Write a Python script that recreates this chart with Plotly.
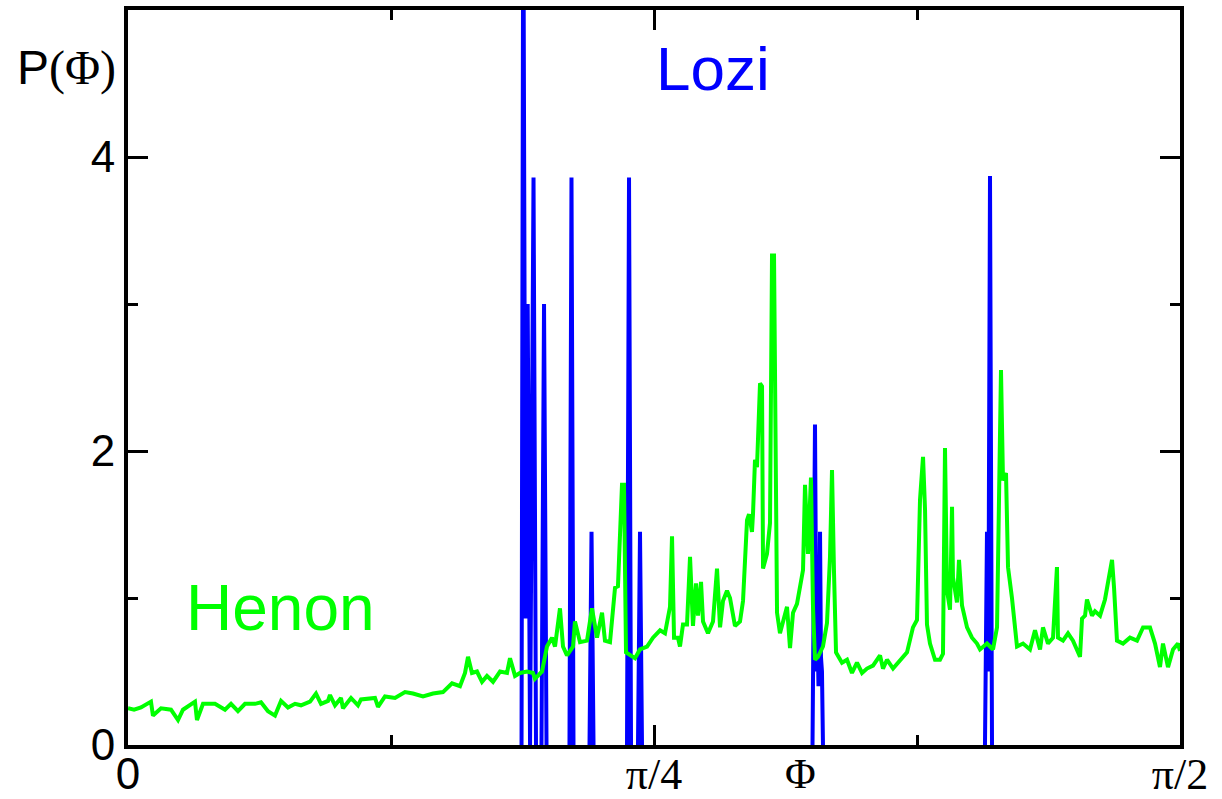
import math
import plotly.graph_objects as go

# ---- Henon: P(phi) ----
henon_phi = [
    0.0000, 0.0090, 0.0194, 0.0343, 0.0373, 0.0493, 0.0642, 0.0747, 0.0821, 0.1000,
    0.1030, 0.1120, 0.1299, 0.1448, 0.1538, 0.1642, 0.1747, 0.1896, 0.1986, 0.2090,
    0.2195, 0.2285, 0.2389, 0.2494, 0.2583, 0.2718, 0.2807, 0.2882, 0.2986, 0.3016,
    0.3091, 0.3180, 0.3210, 0.3330, 0.3434, 0.3479, 0.3688, 0.3733, 0.3837, 0.3987,
    0.4136, 0.4255, 0.4405, 0.4554, 0.4703, 0.4838, 0.4957, 0.5032, 0.5077, 0.5136,
    0.5211, 0.5286, 0.5360, 0.5450, 0.5555, 0.5659, 0.5704, 0.5779, 0.5853, 0.5958,
    0.6047, 0.6077, 0.6182, 0.6256, 0.6331, 0.6376, 0.6450, 0.6495, 0.6555, 0.6645,
    0.6674, 0.6749, 0.6854, 0.6928, 0.7003, 0.7078, 0.7122, 0.7197, 0.7272, 0.7316,
    0.7376, 0.7406, 0.7436, 0.7496, 0.7570, 0.7645, 0.7750, 0.7839, 0.7944, 0.8018,
    0.8093, 0.8123, 0.8153, 0.8212, 0.8242, 0.8287, 0.8347, 0.8392, 0.8421, 0.8436,
    0.8481, 0.8511, 0.8556, 0.8586, 0.8660, 0.8735, 0.8795, 0.8840, 0.8884, 0.8944,
    0.8989, 0.9063, 0.9138, 0.9183, 0.9243, 0.9273, 0.9317, 0.9332, 0.9362, 0.9392,
    0.9437, 0.9467, 0.9482, 0.9541, 0.9586, 0.9616, 0.9646, 0.9691, 0.9735, 0.9780,
    0.9840, 0.9885, 0.9930, 0.9989, 1.0034, 1.0079, 1.0109, 1.0153, 1.0198, 1.0228,
    1.0258, 1.0303, 1.0377, 1.0437, 1.0482, 1.0512, 1.0542, 1.0572, 1.0661, 1.0736,
    1.0810, 1.0885, 1.0960, 1.1034, 1.1124, 1.1229, 1.1273, 1.1333, 1.1423, 1.1527,
    1.1632, 1.1721, 1.1781, 1.1826, 1.1871, 1.1901, 1.1930, 1.1975, 1.2050, 1.2124,
    1.2169, 1.2199, 1.2229, 1.2274, 1.2304, 1.2318, 1.2378, 1.2408, 1.2453, 1.2528,
    1.2602, 1.2677, 1.2722, 1.2826, 1.2916, 1.2976, 1.2990, 1.3035, 1.3065, 1.3110,
    1.3140, 1.3199, 1.3274, 1.3364, 1.3468, 1.3543, 1.3618, 1.3662, 1.3737, 1.3812,
    1.3871, 1.3886, 1.3961, 1.4036, 1.4110, 1.4215, 1.4245, 1.4290, 1.4319, 1.4394,
    1.4439, 1.4514, 1.4588, 1.4663, 1.4693, 1.4723, 1.4767, 1.4857, 1.4961, 1.5066,
    1.5156, 1.5260, 1.5335, 1.5409, 1.5454, 1.5529, 1.5604, 1.5678, 1.5708,
]
henon_p = [
    0.25, 0.24, 0.255, 0.295, 0.20, 0.25, 0.24, 0.17, 0.24, 0.295,
    0.17, 0.28, 0.28, 0.24, 0.28, 0.23, 0.28, 0.28, 0.29, 0.23,
    0.20, 0.30, 0.255, 0.28, 0.27, 0.295, 0.35, 0.28, 0.30, 0.34,
    0.27, 0.32, 0.25, 0.32, 0.27, 0.31, 0.32, 0.26, 0.33, 0.32,
    0.36, 0.35, 0.33, 0.35, 0.36, 0.42, 0.40, 0.49, 0.60, 0.49,
    0.50, 0.43, 0.47, 0.43, 0.50, 0.49, 0.59, 0.47, 0.49, 0.50,
    0.49, 0.45, 0.50, 0.67, 0.73, 0.67, 0.93, 0.67, 0.61, 0.67,
    0.84, 0.70, 0.71, 0.93, 0.73, 0.90, 0.71, 0.70, 1.07, 1.08,
    1.77, 1.77, 0.63, 0.61, 0.59, 0.65, 0.67, 0.73, 0.78, 0.76,
    0.94, 1.42, 0.73, 0.73, 0.67, 0.82, 0.82, 1.28, 0.84, 0.81,
    1.10, 0.88, 1.11, 0.84, 0.76, 0.84, 1.20, 0.80, 0.98, 1.05,
    1.00, 0.81, 0.84, 0.98, 1.53, 1.57, 1.45, 1.57, 1.94, 1.89,
    2.46, 2.44, 1.20, 1.30, 1.51, 3.33, 3.33, 0.90, 0.76, 0.83,
    0.94, 0.66, 0.90, 0.96, 1.07, 1.19, 1.77, 1.30, 1.82, 0.94,
    0.58, 0.60, 0.67, 0.83, 1.28, 1.87, 1.17, 0.63, 0.56, 0.58,
    0.49, 0.56, 0.49, 0.52, 0.54, 0.61, 0.52, 0.58, 0.52, 0.58,
    0.63, 0.80, 0.85, 1.67, 1.96, 1.60, 0.82, 0.69, 0.58, 0.58,
    0.62, 2.02, 1.05, 0.92, 1.62, 1.14, 0.97, 1.26, 0.95, 0.80,
    0.73, 0.69, 0.65, 0.69, 0.65, 0.80, 1.33, 2.55, 1.80, 1.85,
    1.21, 1.00, 0.67, 0.69, 0.65, 0.78, 0.65, 0.80, 0.69, 0.73,
    1.21, 0.73, 0.71, 0.76, 0.71, 0.60, 0.86, 0.88, 0.99, 0.88,
    0.91, 0.88, 0.99, 1.17, 1.26, 1.07, 0.71, 0.69, 0.73, 0.71,
    0.80, 0.80, 0.69, 0.53, 0.69, 0.53, 0.65, 0.69, 0.64,
]

# ---- Lozi: P(phi) (sharp spikes, zero elsewhere) ----
lozi_phi = [
    0.0000, 0.5876, 0.5902, 0.5935, 0.5968, 0.6003, 0.6055, 0.6092, 0.6174, 0.6212,
    0.6249, 0.6592, 0.6622, 0.6652, 0.6891, 0.6921, 0.6951, 0.7451, 0.7481, 0.7511,
    0.7615, 0.7645, 0.7675, 1.0221, 1.0258, 1.0280, 1.0295, 1.0310, 1.0333, 1.0347,
    1.0362, 1.0377, 1.2796, 1.2826, 1.2846, 1.2871, 1.2901, 1.5708,
]
lozi_p = [
    0.0, 0.0, 6.0, 0.86, 3.0, 0.0, 3.86, 0.0, 0.0, 3.0,
    0.0, 0.0, 3.86, 0.0, 0.0, 1.45, 0.0, 0.0, 3.86, 0.0,
    0.0, 1.45, 0.0, 0.0, 2.18, 0.5, 0.8, 0.4, 1.45, 0.6,
    0.5, 0.0, 0.0, 1.45, 0.5, 3.87, 0.0, 0.0,
]

x_tickvals = [0, math.pi / 4, math.pi / 2]
x_ticktext = ['<span style="font-family:Liberation Sans">0</span>', "π/4", "π/2"]
x_minor = [math.pi / 8, 3 * math.pi / 8]
y_tickvals = [0, 2, 4]
y_minor = [1, 3]

# The zero baseline of the Lozi curve lies under the axis line: break the
# polyline wherever two consecutive samples are both zero.
lx, ly = [], []
for i in range(len(lozi_phi)):
    lx.append(lozi_phi[i])
    ly.append(lozi_p[i])
    if i + 1 < len(lozi_phi) and lozi_p[i] == 0 and lozi_p[i + 1] == 0:
        lx.append(None)
        ly.append(None)

fig = go.Figure()
fig.add_trace(go.Scatter(x=lx, y=ly, mode="lines", connectgaps=False,
                         line=dict(color="#0000ff", width=4), showlegend=False))
fig.add_trace(go.Scatter(x=henon_phi, y=henon_p, mode="lines",
                         line=dict(color="#00ff00", width=4), showlegend=False))

axis_common = dict(showline=True, linewidth=4, linecolor="black", mirror="ticks",
                   ticks="inside", ticklen=20, tickwidth=3, tickcolor="black",
                   showgrid=False, zeroline=False, automargin=False,
                   layer="above traces")

fig.update_xaxes(range=[0, math.pi / 2], tickvals=x_tickvals, ticktext=x_ticktext,
                 tickfont=dict(family="Liberation Serif", size=44, color="black"),
                 ticklabelstandoff=-13,
                 minor=dict(tickvals=x_minor, ticks="inside", ticklen=10, tickwidth=3,
                            tickcolor="black"),
                 **axis_common)
fig.update_yaxes(range=[0, 5], tickvals=y_tickvals,
                 tickfont=dict(family="Liberation Sans", size=44, color="black"),
                 minor=dict(tickvals=y_minor, ticks="inside", ticklen=10, tickwidth=3,
                            tickcolor="black"),
                 **axis_common)

fig.add_annotation(text='P<span style="font-family:Liberation Serif">(Φ)</span>',
                   xref="paper", yref="paper", x=-0.1075, y=0.921,
                   xanchor="left", yanchor="middle", showarrow=False,
                   font=dict(family="Liberation Sans", size=48, color="black"))
fig.add_annotation(text="Φ", xref="x", yref="paper", x=1.0034, y=-0.0725,
                   xanchor="center", yanchor="bottom", showarrow=False, borderpad=0,
                   font=dict(family="Liberation Serif", size=42, color="black"))
fig.add_annotation(text="Lozi", xref="x", yref="y", x=0.8735, y=4.6,
                   xanchor="center", yanchor="middle", showarrow=False,
                   font=dict(family="Liberation Sans", size=62, color="#0000ff"))
fig.add_annotation(text="Henon", xref="x", yref="y", x=0.2270, y=0.93,
                   xanchor="center", yanchor="middle", showarrow=False,
                   font=dict(family="Liberation Sans", size=64, color="#00ff00"))

fig.update_layout(width=1222, height=799,
                  margin=dict(l=128, r=42, t=10, b=54),
                  paper_bgcolor="white", plot_bgcolor="white")

fig.write_html("out.html")
